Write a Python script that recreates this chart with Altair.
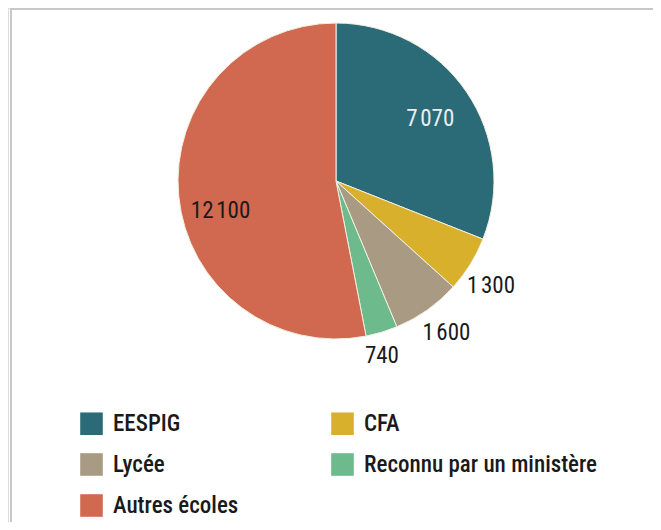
import altair as alt
import pandas as pd

categories = ["EESPIG", "CFA", "Lycée", "Reconnu par un ministère", "Autres écoles"]
values = [7070, 1300, 1600, 740, 12100]
labels = ["7\u202f070", "1\u202f300", "1\u202f600", "740", "12\u202f100"]
colors = ["#2b6b78", "#d8b02c", "#a99b83", "#6dba8c", "#d0694f"]
legend_order = ["EESPIG", "Lycée", "Autres écoles", "CFA", "Reconnu par un ministère"]

df = pd.DataFrame({"cat": categories, "val": values, "lab": labels, "order": range(len(categories))})
color_map = dict(zip(categories, colors))

FONT = "Roboto Condensed, Liberation Sans Narrow, Roboto, sans-serif"
CX, CY, R = 328, 173, 158

arcs = alt.Chart(df).mark_arc(radius=R, stroke="#f3efe0", strokeWidth=1).encode(
    theta=alt.Theta("val:Q", stack=True),
    order=alt.Order("order:Q"),
    x=alt.value(CX), y=alt.value(CY),
    color=alt.Color("cat:N", scale=alt.Scale(domain=legend_order, range=[color_map[c] for c in legend_order]),
                    legend=alt.Legend(title=None, orient="none", legendX=72, legendY=404,
                                      columns=2, symbolType="square", symbolSize=510,
                                      symbolStrokeWidth=0, labelFontSize=23, labelFont=FONT,
                                      labelFontWeight=500,
                                      labelColor="#1a1a1a", rowPadding=17, columnPadding=92,
                                      labelOffset=10, labelLimit=400)),
)

lab_base = alt.Chart(df).transform_window(
    cum="sum(val)", sort=[alt.SortField("order")]
).transform_joinaggregate(total="sum(val)").transform_calculate(
    ang="(datum.cum - datum.val / 2) / datum.total * 2 * PI"
)

def text_layer(cats, radius, color, dy=0, dx=0):
    return lab_base.transform_filter(alt.FieldOneOfPredicate(field="cat", oneOf=cats)).mark_text(
        radius=radius, fontSize=23, font=FONT, align="center", baseline="middle",
        color=color, dy=dy, dx=dx
    ).encode(theta=alt.Theta("ang:Q", scale=None), x=alt.value(CX), y=alt.value(CY), text="lab:N")

t1 = text_layer(["EESPIG"], 114, "#e8f0f2", dy=2)
t2 = text_layer(["Autres écoles"], 116, "#1a1a1a", dy=19)
t3 = text_layer(["CFA"], 186, "#1a1a1a", dy=7, dx=-3)
t4 = text_layer(["Lycée"], 186, "#1a1a1a", dx=3)
t5 = text_layer(["Reconnu par un ministère"], 183, "#1a1a1a", dx=-7)

frame_top = alt.Chart(df).mark_rule(color="#c8c8c8", strokeWidth=2).encode(
    x=alt.value(3), x2=alt.value(660), y=alt.value(1))
frame_left = alt.Chart(df).mark_rule(color="#c8c8c8", strokeWidth=2).encode(
    x=alt.value(3), y=alt.value(0), y2=alt.value(530))

chart = alt.layer(frame_top, frame_left, arcs, t1, t2, t3, t4, t5).properties(
    width=645, height=514, autosize=alt.AutoSizeParams(type="none"), padding=0
).configure_view(stroke=None).configure(background="white")

chart.save("out.html", embed_options={"renderer": "svg", "actions": False})
